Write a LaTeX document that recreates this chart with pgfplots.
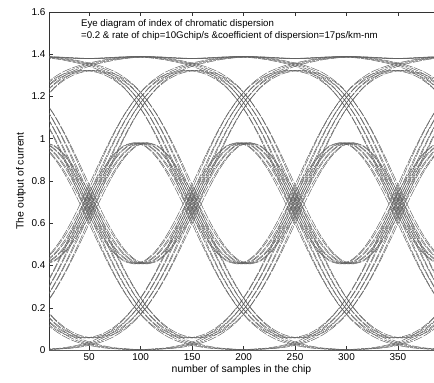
\documentclass[border=0pt]{standalone}
\usepackage{fontspec}
\setmainfont{Liberation Sans}
\usepackage{pgfplots}
\usepackage{pgfplotstable}
\pgfplotsset{compat=1.18}
% eye-diagram segments: x columns for each bit interval (four jittered copies),
% y columns for each 4-bit neighbourhood pattern
\pgfplotstableread{
xa0 xb0 xc0 xd0 xa1 xb1 xc1 xd1 xa2 xb2 xc2 xd2 xa3 xb3 xc3 xd3 q0000 q0001 q0010 q0011 q0100 q0101 q0110 q0111 q1000 q1001 q1010 q1011 q1100 q1101 q1110 q1111
-6 -2 2 6 94 98 102 106 194 198 202 206 294 298 302 306 0 0.002 0.203 0.205 0.980 0.982 1.183 1.185 0.203 0.205 0.407 0.409 1.183 1.185 1.387 1.389
4 8 12 16 104 108 112 116 204 208 212 216 304 308 312 316 0 0.003 0.274 0.278 0.965 0.968 1.239 1.242 0.146 0.150 0.420 0.424 1.111 1.114 1.385 1.388
14 18 22 26 114 118 122 126 214 218 222 226 314 318 322 326 0 0.006 0.358 0.364 0.920 0.926 1.278 1.284 0.102 0.108 0.460 0.466 1.022 1.028 1.380 1.386
24 28 32 36 124 128 132 136 224 228 232 236 324 328 332 336 0 0.010 0.454 0.464 0.851 0.861 1.304 1.315 0.069 0.079 0.522 0.533 0.919 0.930 1.373 1.383
34 38 42 46 134 138 142 146 234 238 242 246 334 338 342 346 0 0.018 0.556 0.574 0.762 0.780 1.318 1.336 0.045 0.063 0.601 0.619 0.807 0.825 1.363 1.381
44 48 52 56 144 148 152 156 244 248 252 256 344 348 352 356 0 0.029 0.662 0.690 0.662 0.690 1.323 1.352 0.029 0.057 0.690 0.719 0.690 0.719 1.352 1.380
54 58 62 66 154 158 162 166 254 258 262 266 354 358 362 366 0 0.045 0.762 0.807 0.556 0.601 1.318 1.363 0.018 0.063 0.780 0.825 0.574 0.619 1.336 1.381
64 68 72 76 164 168 172 176 264 268 272 276 364 368 372 376 0 0.069 0.851 0.919 0.454 0.522 1.304 1.373 0.010 0.079 0.861 0.930 0.464 0.533 1.315 1.383
74 78 82 86 174 178 182 186 274 278 282 286 374 378 382 386 0 0.102 0.920 1.022 0.358 0.460 1.278 1.380 0.006 0.108 0.926 1.028 0.364 0.466 1.284 1.386
84 88 92 96 184 188 192 196 284 288 292 296 384 388 392 396 0 0.146 0.965 1.111 0.274 0.420 1.239 1.385 0.003 0.150 0.968 1.114 0.278 0.424 1.242 1.388
94 98 102 106 194 198 202 206 294 298 302 306 394 398 402 406 0 0.203 0.980 1.183 0.203 0.407 1.183 1.387 0.002 0.205 0.982 1.185 0.205 0.409 1.185 1.389
}\eye
\begin{document}
\begin{tikzpicture}
\begin{axis}[
  scale only axis, width=385bp, height=338bp,
  xmin=11, xmax=385, ymin=0, ymax=1.6,
  axis y line*=left,
  axis line style={-, black!80, line width=0.5pt},
  xtick={50,100,150,200,250,300,350},
  ytick={0,0.2,0.4,0.6,0.8,1,1.2,1.4,1.6},
  tick align=inside, major tick length=4bp,
  tick style={black!80, line width=0.5pt},
  /pgf/number format/assume math mode=true,
  tick label style={font=\fontsize{10}{12}\selectfont},
  label style={font=\fontsize{10.5}{12}\selectfont},
  xlabel={number of samples in the chip},
  ylabel={The output of current},
  xlabel style={yshift=2bp},
  ylabel style={yshift=-1bp},
  eyeline/.style={no markers, smooth, black!64, line width=0.45pt, dash pattern=on 9bp off 1.4bp},
]
\foreach \xc in {xa0,xb0,xc0,xd0,xa1,xb1,xc1,xd1,xa2,xb2,xc2,xd2,xa3,xb3,xc3,xd3}{
  \foreach \yc in {q0000,q0001,q0010,q0011,q0100,q0101,q0110,q0111,q1000,q1001,q1010,q1011,q1100,q1101,q1110,q1111}{
    \addplot[eyeline] table[x=\xc, y=\yc] {\eye};
  }
}
\node[anchor=north west, align=left, inner sep=0pt, font=\fontsize{9.7}{12}\selectfont]
  at (rel axis cs:0.083,0.978)
  {Eye diagram of index of chromatic dispersion\\=0.2 \& rate of chip=10Gchip/s \&coefficient of dispersion=17ps/km-nm};
\end{axis}
\pgfresetboundingbox
\useasboundingbox ([xshift=-49bp,yshift=-33bp]current axis.south west) rectangle ([yshift=12bp]current axis.north east);
\end{tikzpicture}
\end{document}
